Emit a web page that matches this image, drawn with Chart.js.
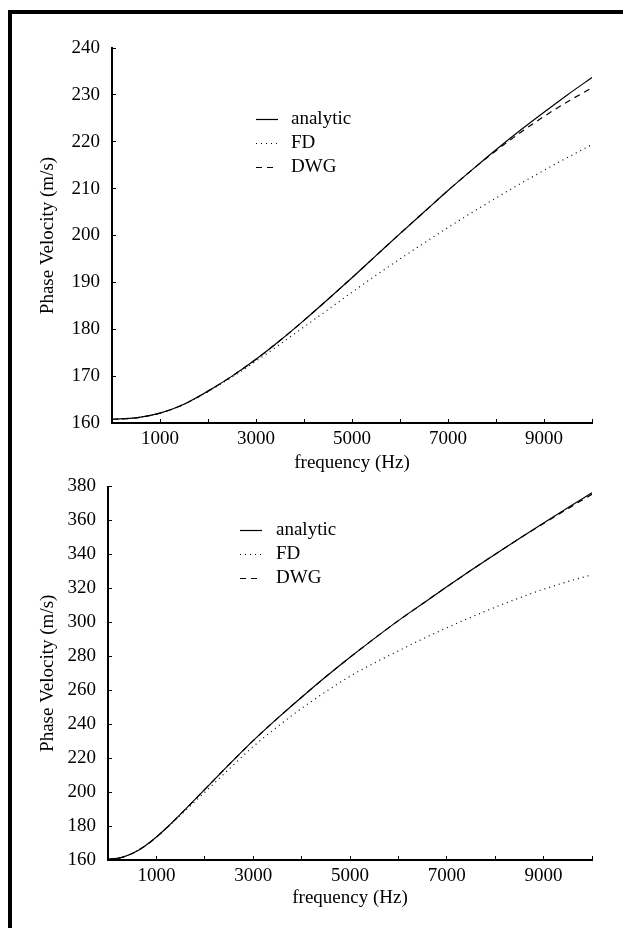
<!DOCTYPE html>
<html>
<head>
<meta charset="utf-8">
<script src="https://cdn.jsdelivr.net/npm/chart.js@4.4.0/dist/chart.umd.min.js"></script>
<style>
html,body{margin:0;padding:0;background:#fff;}
body{width:623px;height:928px;position:relative;overflow:hidden;}
#frame{position:absolute;left:8px;top:10px;width:615px;height:918px;border-left:4px solid #000;border-top:4px solid #000;box-sizing:border-box;}
canvas{position:absolute;left:0;}
#top{top:0;}
#bottom{top:470px;}
</style>
</head>
<body>
<div id="frame"></div>
<canvas id="top" width="623" height="480"></canvas>
<canvas id="bottom" width="623" height="447"></canvas>
<script>
// top panel
var topFreq = [0,500,1000,1500,2000,2500,3000,3500,4000,4500,5000,5500,6000,6500,7000,7500,8000,8500,9000,9500,10000];
var topAnalytic = [160.8,161.1,162.1,164.0,166.8,170.0,173.6,177.6,181.9,186.4,191.0,195.7,200.4,205.0,209.6,214.0,218.3,222.4,226.3,230.1,233.7];
var topFD = [160.8,161.1,162.1,164.0,166.7,169.8,173.2,176.8,180.5,184.2,187.9,191.5,195.0,198.4,201.7,204.9,208.0,211.0,213.9,216.7,219.4];
var topDWG = [160.8,161.1,162.1,164.0,166.8,170.0,173.6,177.6,181.9,186.4,191.0,195.7,200.4,205.0,209.6,214.0,218.1,221.9,225.4,228.6,231.5];

// bottom panel
var botFreq = [0,250,500,750,1000,1250,1500,2000,2500,3000,3500,4000,4500,5000,5500,6000,6500,7000,7500,8000,8500,9000,9500,10000];
var botAnalytic = [160.5,161.3,163.8,168.0,173.5,180.0,187.0,201.6,216.2,230.3,243.4,255.9,267.9,279.4,290.4,301.0,311.0,320.9,330.6,340.1,349.4,358.5,367.5,376.3];
var botFD = [160.5,161.3,163.8,168.0,173.4,179.8,186.5,199.9,213.5,226.8,238.5,249.3,259.1,268.2,276.0,283.2,290.2,296.8,303.0,308.9,314.4,319.5,324.0,328.0];
var botDWG = [160.5,161.3,163.8,168.0,173.5,180.0,187.0,201.6,216.2,230.3,243.4,255.9,267.9,279.4,290.4,301.0,311.0,320.9,330.6,340.1,349.4,358.2,366.9,375.4];

var seriesNames = ['analytic','FD','DWG'];
var FONT = '"Liberation Serif", "Times New Roman", serif';

function pts(xs, ys) {
  return xs.map(function(x, i){ return {x: x, y: ys[i]}; });
}

const insideLegend = {
  id: 'insideLegend',
  afterDatasetsDraw(chart, args, opts) {
    const ctx = chart.ctx;
    ctx.save();
    ctx.font = '19px ' + FONT;
    ctx.textBaseline = 'middle';
    ctx.fillStyle = '#000';
    chart.data.datasets.forEach(function(ds, i) {
      const y = opts.y + i * opts.rowGap + 0.5;
      ctx.beginPath();
      ctx.setLineDash(ds.borderDash || []);
      ctx.lineWidth = 1.2;
      ctx.strokeStyle = '#000';
      ctx.moveTo(opts.x, y);
      ctx.lineTo(opts.x + opts.lineLen, y);
      ctx.stroke();
      ctx.setLineDash([]);
      ctx.fillText(ds.label, opts.textX, y);
    });
    ctx.restore();
  }
};

function makeChart(id, xs, a, fd, dwg, yMin, yMax, yStep, yWidth, padTop, titlePad, legend) {
  var dashes = [[], [1, 4], [6, 5]];
  var vals = [a, fd, dwg];
  new Chart(document.getElementById(id), {
    type: 'line',
    data: {
      datasets: vals.map(function(v, i) {
        return {
          label: seriesNames[i],
          data: pts(xs, v),
          borderColor: '#000',
          borderWidth: 1.2,
          borderDash: dashes[i],
          pointRadius: 0,
          fill: false,
          cubicInterpolationMode: 'monotone'
        };
      })
    },
    options: {
      responsive: false,
      animation: false,
      devicePixelRatio: 1,
      layout: {padding: {top: padTop, right: 31, left: 0, bottom: 0}},
      plugins: {
        legend: {display: false},
        tooltip: {enabled: false},
        insideLegend: legend
      },
      scales: {
        x: {
          type: 'linear',
          min: 0,
          max: 10000,
          afterFit: function(s){ s.height = 57; },
          border: {display: true, color: '#000', width: 2},
          grid: {drawOnChartArea: false, drawTicks: true, tickLength: -4, color: '#000', lineWidth: 1},
          ticks: {
            stepSize: 1000,
            autoSkip: false,
            maxRotation: 0,
            padding: 9,
            color: '#000',
            font: {family: FONT, size: 19},
            callback: function(v){ return (v / 1000) % 2 === 1 ? String(v) : ''; }
          },
          title: {display: true, text: 'frequency (Hz)', color: '#000', font: {family: FONT, size: 19}, padding: {top: 0, bottom: titlePad}}
        },
        y: {
          min: yMin,
          max: yMax,
          afterFit: function(s){ s.width = yWidth; s.paddingTop = 8; s.paddingBottom = 8; },
          border: {display: true, color: '#000', width: 2},
          grid: {drawOnChartArea: false, drawTicks: true, tickLength: -4, color: '#000', lineWidth: 1},
          ticks: {
            stepSize: yStep,
            padding: 16,
            color: '#000',
            font: {family: FONT, size: 19}
          },
          title: {display: true, text: 'Phase Velocity (m/s)', color: '#000', font: {family: FONT, size: 19}, padding: {top: 36.6, bottom: 0}}
        }
      }
    },
    plugins: [insideLegend]
  });
}

makeChart('top', topFreq, topAnalytic, topFD, topDWG, 160, 240, 10, 112, 48, 5.6,
  {x: 256, lineLen: 22, textX: 291, y: 119, rowGap: 24});
makeChart('bottom', botFreq, botAnalytic, botFD, botDWG, 160, 380, 20, 108, 16.5, 7.6,
  {x: 240, lineLen: 22, textX: 276, y: 60, rowGap: 24});
</script>
</body>
</html>
